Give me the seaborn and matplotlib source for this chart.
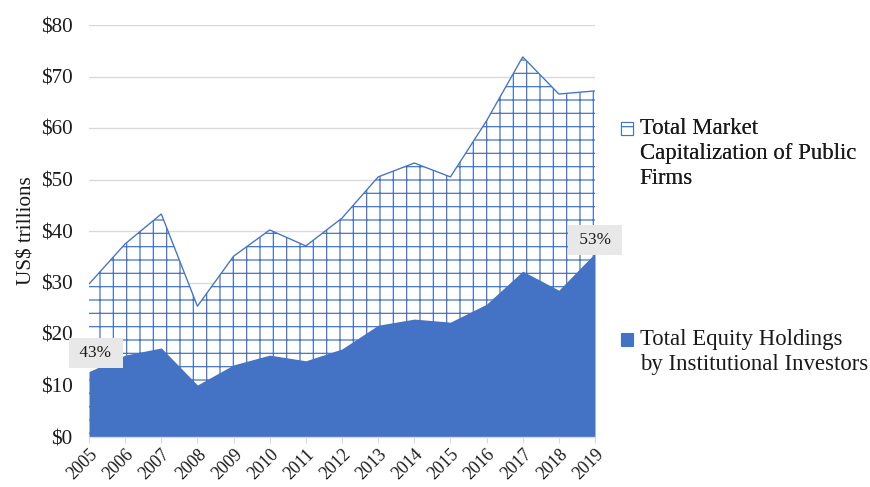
import matplotlib
matplotlib.use("Agg")
import matplotlib.pyplot as plt
import seaborn as sns
import pandas as pd
from matplotlib.patches import Patch, Rectangle
from matplotlib.legend_handler import HandlerPatch

years = list(range(2005, 2020))
market_cap = [29.7, 37.5, 43.3, 25.4, 35.1, 40.2, 37.1, 42.5, 50.5, 53.2, 50.5, 61.4, 73.8, 66.6, 67.2]
inst_equity = [12.7, 15.9, 17.3, 10.1, 14.0, 15.9, 14.8, 17.1, 21.7, 22.9, 22.3, 25.8, 32.2, 28.5, 35.7]
y_ticks = [0, 10, 20, 30, 40, 50, 60, 70, 80]
y_tick_labels = ["$0", "$10", "$20", "$30", "$40", "$50", "$60", "$70", "$80"]
share_labels = {2005: "43%", 2019: "53%"}
series_names = ["Total Market\nCapitalization of Public\nFirms",
                "Total Equity Holdings\nby Institutional Investors"]

df = pd.DataFrame({"year": years, "market_cap": market_cap, "inst_equity": inst_equity})

sns.set_theme(style="white")
plt.rcParams['font.family'] = ['Liberation Serif', 'DejaVu Serif']
plt.rcParams['hatch.linewidth'] = 1.1
plt.rcParams['hatch.color'] = '#4472C4'

BLUE = '#4472C4'
TXT = '#1a1a1a'
DPI = 80
LEG_FS = 20.5
LINESP = 1.26
fig = plt.figure(figsize=(870 / DPI, 487 / DPI), dpi=DPI)
ax = fig.add_axes([89 / 870, 1 - 437 / 487, (595 - 89) / 870, (437 - 25) / 487])

ax.fill_between(df["year"], 0, df["market_cap"], facecolor='white', edgecolor=BLUE,
                hatch='+', linewidth=0, zorder=2)
sns.lineplot(data=df, x="year", y="market_cap", color=BLUE, linewidth=1.2, ax=ax, zorder=3)
ax.fill_between(df["year"], 0, df["inst_equity"], facecolor=BLUE, edgecolor=BLUE,
                linewidth=0, zorder=4)

ax.set_xlim(years[0], years[-1])
ax.set_ylim(0, 80)
ax.set_yticks(y_ticks)
ax.set_yticklabels(y_tick_labels, fontsize=19, color=TXT)
ax.set_xticks(years)
ax.set_xticklabels([str(y) for y in years], rotation=45, ha='right', rotation_mode='anchor',
                   fontsize=16, color=TXT)
ax.grid(axis='y', color='#D9D9D9', linewidth=1.2, zorder=0)
ax.set_axisbelow(True)
for s in ['top', 'right', 'left']:
    ax.spines[s].set_visible(False)
ax.spines['bottom'].set_color('#D9D9D9')
ax.spines['bottom'].set_linewidth(1.2)
ax.spines['bottom'].set_zorder(5)
ax.tick_params(axis='x', which='both', bottom=True, length=5, width=1, color='#D9D9D9', pad=3)
ax.tick_params(axis='y', length=0, pad=15)
ax.set_xlabel("")
ax.set_ylabel("US$ trillions", fontsize=19, color=TXT, labelpad=4)

offsets = {2005: (6, 17), 2019: (0, 12)}
for yr, lab in share_labels.items():
    val = inst_equity[years.index(yr)]
    ax.annotate(" " + lab + " ", xy=(yr, val), xytext=offsets[yr], textcoords='offset points',
                ha='center', va='center', fontsize=15.5, color=TXT, zorder=6,
                bbox=dict(boxstyle='square,pad=0.4', facecolor='#E8E8E8', edgecolor='none'),
                annotation_clip=False)


class TopLineHandler(HandlerPatch):
    """Place the legend key beside the first line of a multi-line label."""
    def __init__(self, nlines, **kw):
        super().__init__(**kw)
        self.nlines = nlines

    def create_artists(self, legend, orig_handle, xdescent, ydescent, width, height,
                       fontsize, trans):
        shift = (self.nlines - 1) * LINESP * fontsize * 0.5 * 0.88
        p = Rectangle((-xdescent, -ydescent + shift), width, height)
        self.update_prop(p, orig_handle, legend)
        p.set_transform(trans)
        return [p]


h1 = Patch(facecolor='white', edgecolor=BLUE, hatch='-', linewidth=1.0)
h2 = Patch(facecolor=BLUE, edgecolor=BLUE)
common = dict(loc='upper left', frameon=False, fontsize=LEG_FS, handlelength=0.52,
              handleheight=0.52, handletextpad=0.3, labelcolor=TXT, borderpad=0,
              borderaxespad=0)
leg1 = fig.legend(handles=[h1], labels=[series_names[0]],
                  bbox_to_anchor=(621 / 870, 1 - 118 / 487),
                  handler_map={h1: TopLineHandler(3)}, **common)
fig.add_artist(leg1)
leg2 = fig.legend(handles=[h2], labels=[series_names[1]],
                  bbox_to_anchor=(621 / 870, 1 - 329 / 487),
                  handler_map={h2: TopLineHandler(2)}, **common)
for leg in (leg1, leg2):
    for t in leg.get_texts():
        t.set_linespacing(LINESP)

fig.savefig("out.png", dpi=DPI)
